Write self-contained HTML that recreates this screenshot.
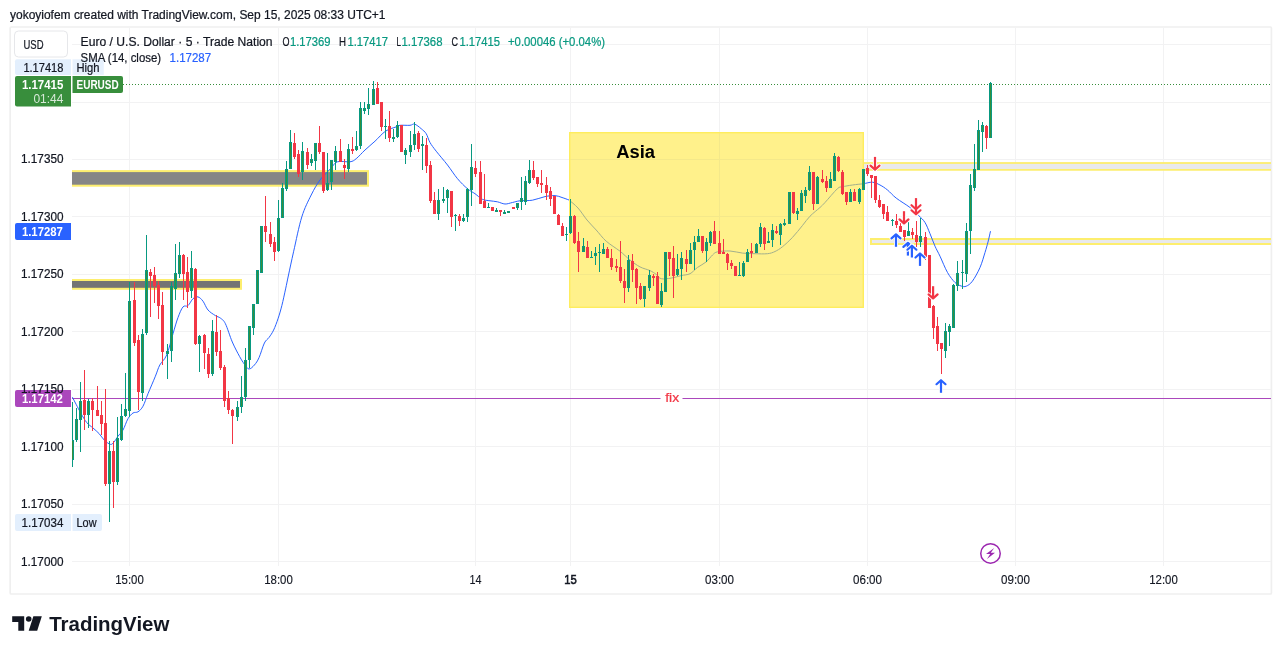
<!DOCTYPE html>
<html><head><meta charset="utf-8"><title>chart</title>
<style>
html,body{margin:0;padding:0;background:#fff;}
body{width:1281px;height:654px;overflow:hidden;font-family:"Liberation Sans",sans-serif;}
svg{display:block;font-family:"Liberation Sans",sans-serif;will-change:transform;}
</style></head><body>
<svg width="1281" height="654" viewBox="0 0 1281 654">
<rect width="1281" height="654" fill="#fff"/>
<text x="10" y="18.7" font-size="12" fill="#131722" text-anchor="start" font-weight="normal" stroke="#131722" stroke-width="0.22" textLength="375.5" lengthAdjust="spacingAndGlyphs" >yokoyiofem created with TradingView.com, Sep 15, 2025 08:33 UTC+1</text>
<rect x="10.2" y="27" width="1261.2" height="567" rx="1" fill="#fff" stroke="#efefef" stroke-width="1.7"/>
<line x1="72" x2="1271" y1="561.5" y2="561.5" stroke="#f2f2f3" stroke-width="1"/>
<line x1="72" x2="1271" y1="504.5" y2="504.5" stroke="#f2f2f3" stroke-width="1"/>
<line x1="72" x2="1271" y1="446.5" y2="446.5" stroke="#f2f2f3" stroke-width="1"/>
<line x1="72" x2="1271" y1="389.5" y2="389.5" stroke="#f2f2f3" stroke-width="1"/>
<line x1="72" x2="1271" y1="331.5" y2="331.5" stroke="#f2f2f3" stroke-width="1"/>
<line x1="72" x2="1271" y1="274.5" y2="274.5" stroke="#f2f2f3" stroke-width="1"/>
<line x1="72" x2="1271" y1="216.5" y2="216.5" stroke="#f2f2f3" stroke-width="1"/>
<line x1="72" x2="1271" y1="159.5" y2="159.5" stroke="#f2f2f3" stroke-width="1"/>
<line x1="72" x2="1271" y1="102.5" y2="102.5" stroke="#f2f2f3" stroke-width="1"/>
<line x1="72" x2="1271" y1="44.5" y2="44.5" stroke="#f2f2f3" stroke-width="1"/>
<line x1="129.5" x2="129.5" y1="28" y2="566" stroke="#f2f2f3" stroke-width="1"/>
<line x1="278.5" x2="278.5" y1="28" y2="566" stroke="#f2f2f3" stroke-width="1"/>
<line x1="475.5" x2="475.5" y1="28" y2="566" stroke="#f2f2f3" stroke-width="1"/>
<line x1="570.5" x2="570.5" y1="28" y2="566" stroke="#f2f2f3" stroke-width="1"/>
<line x1="719.5" x2="719.5" y1="28" y2="566" stroke="#f2f2f3" stroke-width="1"/>
<line x1="867.5" x2="867.5" y1="28" y2="566" stroke="#f2f2f3" stroke-width="1"/>
<line x1="1015.5" x2="1015.5" y1="28" y2="566" stroke="#f2f2f3" stroke-width="1"/>
<line x1="1163.5" x2="1163.5" y1="28" y2="566" stroke="#f2f2f3" stroke-width="1"/>
<defs><clipPath id="cp"><rect x="72" y="28" width="1199" height="565"/></clipPath></defs>
<g clip-path="url(#cp)">
<rect x="60" y="171.1" width="308" height="14.6" fill="#868686" stroke="#fdee6e" stroke-width="2"/>
<rect x="60" y="280" width="181" height="8.8" fill="#747474" stroke="#fdee6e" stroke-width="2"/>
<rect x="863" y="163" width="412" height="6.85" fill="#e9e9ec" stroke="#fdee6e" stroke-width="1.8"/>
<rect x="871" y="239" width="404" height="5" fill="#e9e9ec" stroke="#fdee6e" stroke-width="2"/>
<line x1="72" x2="660.5" y1="398.5" y2="398.5" stroke="#ab47bc" stroke-width="1"/>
<line x1="682.5" x2="1271" y1="398.5" y2="398.5" stroke="#ab47bc" stroke-width="1"/>
<text x="665.2" y="402" font-size="12" fill="#f23645" stroke="#f23645" stroke-width="0.2" textLength="14" lengthAdjust="spacingAndGlyphs">fix</text>
<path d="M72.4,397.2C73.75,399.75 78.12,408.28 80.5,412.5C82.88,416.72 84.62,419.92 86.7,422.5C88.78,425.08 90.92,426.13 93,428C95.08,429.87 97.33,431.7 99.2,433.7C101.07,435.7 102.32,438.22 104.2,440C106.08,441.78 108.87,444.07 110.5,444.4C112.13,444.73 112.75,443.37 114,442C115.25,440.63 116.5,438.2 118,436.2C119.5,434.2 121.33,432.92 123,430C124.67,427.08 126.33,421.53 128,418.7C129.67,415.87 131.33,414.15 133,413C134.67,411.85 136.33,412.93 138,411.8C139.67,410.67 141.33,409.22 143,406.2C144.67,403.18 145.93,398.7 148,393.7C150.07,388.7 153.43,380.98 155.4,376.2C157.37,371.42 157.92,368.53 159.8,365C161.68,361.47 164.5,360.22 166.7,355C168.9,349.78 171.12,339.95 173,333.7C174.88,327.45 176.33,321.97 178,317.5C179.67,313.03 181.33,308.88 183,306.9C184.67,304.92 186.33,306.97 188,305.6C189.67,304.23 191.33,300.15 193,298.7C194.67,297.25 196.33,296.48 198,296.9C199.67,297.32 201.33,299.02 203,301.2C204.67,303.38 205.93,307.6 208,310C210.07,312.4 213.33,314.25 215.4,315.6C217.47,316.95 218.73,316.75 220.4,318.1C222.07,319.45 223.42,319.72 225.4,323.7C227.38,327.68 229.92,336.5 232.3,342C234.68,347.5 237.7,353.03 239.7,356.7C241.7,360.37 242.77,361.95 244.3,364C245.83,366.05 247.22,368.83 248.9,369C250.58,369.17 252.72,366.88 254.4,365C256.08,363.12 257.33,361.37 259,357.7C260.67,354.03 262.73,346.37 264.4,343C266.07,339.63 267.47,339.65 269,337.5C270.53,335.35 272.07,333.32 273.6,330.1C275.13,326.88 276.82,322.32 278.2,318.2C279.58,314.08 280.67,310.28 281.9,305.4C283.13,300.52 284.53,293.8 285.6,288.9C286.67,284 286.95,282.28 288.3,276C289.65,269.72 291.45,261.05 293.7,251.2C295.95,241.35 298.88,226.27 301.8,216.9C304.72,207.53 308.17,201.15 311.2,195C314.23,188.85 316.87,184.28 320,180C323.13,175.72 327.1,172.33 330,169.3C332.9,166.27 334.07,163.05 337.4,161.8C340.73,160.55 346.87,162.32 350,161.8C353.13,161.28 353.7,160.67 356.2,158.7C358.7,156.73 361.87,152.92 365,150C368.13,147.08 371.58,144.33 375,141.2C378.42,138.07 381.98,133.58 385.5,131.2C389.02,128.82 393.68,127.88 396.1,126.9C398.52,125.92 397.68,125.57 400,125.3C402.32,125.03 407.57,125.5 410,125.3C412.43,125.1 412.73,123.53 414.6,124.1C416.47,124.67 419.27,127.1 421.2,128.7C423.13,130.3 424.73,131.4 426.2,133.7C427.67,136 428.33,139.58 430,142.5C431.67,145.42 433.28,147.45 436.2,151.2C439.12,154.95 443.95,160.42 447.5,165C451.05,169.58 454.18,174.75 457.5,178.7C460.82,182.65 464.48,186.2 467.4,188.7C470.32,191.2 472.5,191.93 475,193.7C477.5,195.47 479.9,198.12 482.4,199.3C484.9,200.48 487.5,200.38 490,200.8C492.5,201.22 494.9,201.27 497.4,201.8C499.9,202.33 502.5,203.88 505,204C507.5,204.12 509.9,203.03 512.4,202.5C514.9,201.97 516.67,201.18 520,200.8C523.33,200.42 528.23,200.9 532.4,200.2C536.57,199.5 541.23,197.37 545,196.6C548.77,195.83 552.17,195.45 555,195.6C557.83,195.75 559.67,196.77 562,197.5C564.33,198.23 567.83,199.58 569,200" fill="none" stroke="#2962ff" stroke-width="1" stroke-linejoin="round"/>
<rect x="569" y="132" width="295" height="176" fill="#fff18b"/>
<line x1="569" x2="864" y1="159.5" y2="159.5" stroke="#f4e88a" stroke-width="1"/>
<line x1="569" x2="864" y1="216.5" y2="216.5" stroke="#f4e88a" stroke-width="1"/>
<line x1="569" x2="864" y1="274.5" y2="274.5" stroke="#f4e88a" stroke-width="1"/>
<line x1="719.5" x2="719.5" y1="132" y2="308" stroke="#f4e88a" stroke-width="1"/>
<path d="M569,200C570.5,201.33 575,204.67 578,208C581,211.33 583.97,216.33 587,220C590.03,223.67 593,226.47 596.2,230C599.4,233.53 602.23,237.67 606.2,241.2C610.17,244.73 616.03,248.07 620,251.2C623.97,254.33 626.67,257.38 630,260C633.33,262.62 636.67,265.13 640,266.9C643.33,268.67 647.3,269.35 650,270.6C652.7,271.85 654.33,273.05 656.2,274.4C658.07,275.75 658.7,278.08 661.2,278.7C663.7,279.32 667.87,278.62 671.2,278.1C674.53,277.58 678.07,276.33 681.2,275.6C684.33,274.87 687.3,275.05 690,273.7C692.7,272.35 694.7,269.47 697.4,267.5C700.1,265.53 703.68,263.98 706.2,261.9C708.72,259.82 710.62,256.68 712.5,255C714.38,253.32 714.58,252.47 717.5,251.8C720.42,251.13 725.83,250.78 730,251C734.17,251.22 738.33,252.65 742.5,253.1C746.67,253.55 750.83,253.6 755,253.7C759.17,253.8 764.17,254.07 767.5,253.7C770.83,253.33 772.52,252.65 775,251.5C777.48,250.35 779.5,249.13 782.4,246.8C785.3,244.47 789.07,241.03 792.4,237.5C795.73,233.97 799.47,229.15 802.4,225.6C805.33,222.05 807.07,219.22 810,216.2C812.93,213.18 817.5,209.78 820,207.5C822.5,205.22 822.1,205.63 825,202.5C827.9,199.37 834.5,191.32 837.4,188.7C840.3,186.08 839.9,187.42 842.4,186.8C844.9,186.18 848.8,185.52 852.4,185C856,184.48 862.07,183.92 864,183.7" fill="none" stroke="#a3b08c" stroke-width="1" stroke-linejoin="round"/>
<rect x="569.7" y="132.7" width="293.6" height="174.6" fill="none" stroke="#feed5e" stroke-width="1.4"/>
<text x="616.2" y="157.5" font-size="18" font-weight="bold" fill="#000" textLength="38.8" lengthAdjust="spacingAndGlyphs">Asia</text>
<path d="M864,183.7C865.4,183.45 869.73,181.98 872.4,182.2C875.07,182.42 877.48,183.7 880,185C882.52,186.3 884.8,187.82 887.5,190C890.2,192.18 892.45,195.18 896.2,198.1C899.95,201.02 906.25,204.58 910,207.5C913.75,210.42 916.2,213.1 918.7,215.6C921.2,218.1 923.12,219.48 925,222.5C926.88,225.52 928.33,229.75 930,233.7C931.67,237.65 933.33,242.45 935,246.2C936.67,249.95 937.92,251.82 940,256.2C942.08,260.58 945,268.12 947.5,272.5C950,276.88 952.72,280.25 955,282.5C957.28,284.75 959.33,285.38 961.2,286C963.07,286.62 964.33,287 966.2,286.2C968.07,285.4 970.1,284.32 972.4,281.2C974.7,278.08 977.9,272.28 980,267.5C982.1,262.72 983.67,256.75 985,252.5C986.33,248.25 987.08,245.55 988,242C988.92,238.45 990.08,233 990.5,231.2" fill="none" stroke="#2962ff" stroke-width="1" stroke-linejoin="round"/>
<line x1="123" x2="1271" y1="84.5" y2="84.5" stroke="#388e3c" stroke-width="1" stroke-dasharray="1 2"/>
<path d="M72.5,402V467M76.5,408V442M80.5,382V452M88.5,399V428M109.5,441V522M117.5,417V485M121.5,404V441M125.5,373V417M129.5,282V417M142.5,329V401M146.5,235V335M167.5,344V379M171.5,282V362M175.5,244V300M179.5,242V278M191.5,251V298M199.5,335V372M212.5,320V376M237.5,401V421M241.5,376V413M245.5,348V401M249.5,326V368M253.5,304V335M257.5,270V304M261.5,226V273M278.5,200V252M282.5,183V218M286.5,161V191M290.5,130V169M302.5,142V180M311.5,154V166M315.5,143V170M327.5,153V191M331.5,160V190M335.5,146V170M348.5,144V172M356.5,131V151M360.5,102V149M364.5,102V114M368.5,88V115M373.5,81V105M385.5,119V139M393.5,129V142M397.5,121V138M405.5,148V164M410.5,131V157M414.5,122V150M422.5,136V170M438.5,189V220M443.5,187V203M447.5,189V213M455.5,214V231M463.5,214V222M467.5,188V222M471.5,144V206M488.5,203V208M496.5,208V212M504.5,210V214M508.5,211V213M517.5,203V210M521.5,177V210M525.5,176V205M529.5,160V184M566.5,227V241M570.5,199V234M583.5,238V252M591.5,251V258M595.5,247V265M599.5,244V272M603.5,243V254M628.5,255V292M644.5,286V307M649.5,270V291M661.5,283V307M665.5,252V292M677.5,254V276M681.5,252V280M690.5,243V264M694.5,236V270M698.5,229V242M706.5,238V262M710.5,231V246M739.5,262V276M743.5,261V277M747.5,249V262M756.5,243V253M760.5,223V247M768.5,232V243M772.5,224V247M780.5,223V245M784.5,219V226M789.5,192V224M797.5,208V220M801.5,190V211M805.5,187V203M809.5,166V191M817.5,176V204M830.5,172V188M834.5,153V181M850.5,189V202M859.5,188V204M863.5,169V190M892.5,219V226M908.5,222V236M920.5,218V247M945.5,323V358M949.5,324V346M953.5,284V328M957.5,261V291M962.5,260V289M966.5,223V282M970.5,174V254M974.5,144V191M978.5,120V170M982.5,122V152M990.5,82V138" stroke="#089981" stroke-width="1" fill="none"/>
<path d="M84.5,370V430M92.5,398V431M97.5,386V416M101.5,401V435M105.5,389V486M113.5,441V508M134.5,282V346M138.5,335V410M150.5,269V317M154.5,267V303M158.5,281V319M162.5,292V365M183.5,254V300M187.5,257V308M195.5,268V345M204.5,334V369M208.5,348V378M216.5,315V356M220.5,330V370M224.5,365V407M228.5,391V414M232.5,409V444M265.5,196V242M270.5,222V247M274.5,237V261M294.5,133V159M298.5,150V177M307.5,148V169M319.5,126V154M323.5,152V193M340.5,139V162M344.5,159V179M352.5,137V154M377.5,82V104M381.5,102V131M389.5,111V142M401.5,125V152M418.5,131V152M426.5,138V173M430.5,161V203M434.5,192V214M451.5,191V227M459.5,214V226M475.5,161V177M480.5,161V204M484.5,174V208M492.5,207V211M500.5,210V216M513.5,207V209M533.5,161V180M537.5,177V187M541.5,170V193M546.5,177V200M550.5,187V206M554.5,196V214M558.5,214V225M562.5,223V236M574.5,215V244M578.5,232V272M587.5,241V258M607.5,247V258M611.5,249V270M616.5,259V272M620.5,241V283M624.5,269V303M632.5,254V282M636.5,268V304M640.5,283V300M653.5,274V286M657.5,272V304M669.5,252V276M673.5,246V298M686.5,250V272M702.5,236V253M714.5,221V244M719.5,231V254M723.5,239V254M727.5,253V270M731.5,260V269M735.5,266V276M751.5,243V258M764.5,227V250M776.5,226V234M793.5,192V214M813.5,172V210M822.5,170V183M826.5,176V192M838.5,156V172M842.5,170V195M846.5,192V205M854.5,189V201M867.5,165V176M871.5,175V198M875.5,176V203M879.5,195V208M883.5,204V219M887.5,206V221M896.5,214V228M900.5,223V232M904.5,230V241M912.5,228V239M916.5,221V247M925.5,232V260M929.5,255V308M933.5,305V339M937.5,317V351M941.5,343V374M986.5,125V149" stroke="#f23645" stroke-width="1" fill="none"/>
<path d="M71,440h3V460h-3zM75,419h3V440h-3zM79,401h3V420h-3zM87,401h3V415h-3zM108,451h3V484h-3zM116,438h3V482h-3zM120,416h3V440h-3zM124,409h3V416h-3zM128,301h3V411h-3zM141,334h3V393h-3zM145,270h3V333h-3zM166,351h3V354h-3zM170,286h3V351h-3zM174,273h3V289h-3zM178,255h3V274h-3zM190,268h3V291h-3zM198,336h3V344h-3zM211,331h3V374h-3zM236,407h3V417h-3zM240,397h3V407h-3zM244,360h3V397h-3zM248,326h3V360h-3zM252,304h3V328h-3zM256,270h3V304h-3zM260,226h3V273h-3zM277,218h3V251h-3zM281,188h3V218h-3zM285,169h3V189h-3zM289,142h3V169h-3zM301,151h3V172h-3zM310,159h3V163h-3zM314,143h3V161h-3zM326,183h3V190h-3zM330,160h3V182h-3zM334,151h3V162h-3zM347,149h3V169h-3zM355,146h3V150h-3zM359,108h3V146h-3zM363,108h3V111h-3zM367,104h3V109h-3zM372,89h3V105h-3zM384,126h3V127h-3zM392,137h3V139h-3zM396,125h3V137h-3zM404,150h3V155h-3zM409,145h3V152h-3zM413,134h3V145h-3zM421,144h3V146h-3zM437,200h3V214h-3zM442,199h3V201h-3zM446,190h3V198h-3zM454,215h3V216h-3zM462,218h3V221h-3zM466,189h3V217h-3zM470,167h3V190h-3zM487,207h3V208h-3zM495,210h3V212h-3zM503,212h3V214h-3zM507,211h3V213h-3zM516,203h3V208h-3zM520,198h3V202h-3zM524,181h3V202h-3zM528,170h3V183h-3zM565,234h3V235h-3zM569,216h3V233h-3zM582,246h3V252h-3zM590,257h3V258h-3zM594,253h3V256h-3zM598,252h3V253h-3zM602,249h3V254h-3zM627,260h3V288h-3zM643,286h3V299h-3zM648,275h3V288h-3zM660,291h3V305h-3zM664,252h3V292h-3zM676,269h3V275h-3zM680,258h3V269h-3zM689,250h3V264h-3zM693,242h3V250h-3zM697,236h3V242h-3zM705,242h3V251h-3zM709,232h3V243h-3zM738,275h3V276h-3zM742,263h3V276h-3zM746,252h3V262h-3zM755,244h3V253h-3zM759,227h3V244h-3zM767,241h3V243h-3zM771,230h3V240h-3zM779,224h3V235h-3zM783,223h3V225h-3zM788,192h3V224h-3zM796,211h3V214h-3zM800,193h3V211h-3zM804,190h3V196h-3zM808,172h3V190h-3zM816,177h3V204h-3zM829,179h3V188h-3zM833,156h3V181h-3zM849,192h3V202h-3zM858,189h3V202h-3zM862,169h3V190h-3zM891,220h3V221h-3zM907,231h3V236h-3zM919,236h3V242h-3zM944,331h3V351h-3zM948,326h3V332h-3zM952,285h3V328h-3zM956,273h3V286h-3zM961,272h3V273h-3zM965,231h3V274h-3zM969,185h3V231h-3zM973,169h3V188h-3zM977,130h3V170h-3zM981,125h3V132h-3zM989,83h3V138h-3z" fill="#089981"/>
<path d="M72.5,441V459M76.5,420V439M80.5,402V419M88.5,402V414M109.5,452V483M117.5,439V481M121.5,417V439M125.5,410V415M129.5,302V410M142.5,335V392M146.5,271V332M167.5,352V353M171.5,287V350M175.5,274V288M179.5,256V273M191.5,269V290M199.5,337V343M212.5,332V373M237.5,408V416M241.5,398V406M245.5,361V396M249.5,327V359M253.5,305V327M257.5,271V303M261.5,227V272M278.5,219V250M282.5,189V217M286.5,170V188M290.5,143V168M302.5,152V171M311.5,160V162M315.5,144V160M327.5,184V189M331.5,161V181M335.5,152V161M348.5,150V168M356.5,147V149M360.5,109V145M364.5,109V110M368.5,105V108M373.5,90V104M393.5,137.5V138.5M397.5,126V136M405.5,151V154M410.5,146V151M414.5,135V144M422.5,144.5V145.5M438.5,201V213M443.5,199.5V200.5M447.5,191V197M463.5,219V220M467.5,190V216M471.5,168V189M496.5,210.5V211.5M504.5,212.5V213.5M508.5,211.5V212.5M517.5,204V207M521.5,199V201M525.5,182V201M529.5,171V182M570.5,217V232M583.5,247V251M595.5,254V255M603.5,250V253M628.5,261V287M644.5,287V298M649.5,276V287M661.5,292V304M665.5,253V291M677.5,270V274M681.5,259V268M690.5,251V263M694.5,243V249M698.5,237V241M706.5,243V250M710.5,233V242M743.5,264V275M747.5,253V261M756.5,245V252M760.5,228V243M768.5,241.5V242.5M772.5,231V239M780.5,225V234M784.5,223.5V224.5M789.5,193V223M797.5,212V213M801.5,194V210M805.5,191V195M809.5,173V189M817.5,178V203M830.5,180V187M834.5,157V180M850.5,193V201M859.5,190V201M863.5,170V189M908.5,232V235M920.5,237V241M945.5,332V350M949.5,327V331M953.5,286V327M957.5,274V285M966.5,232V273M970.5,186V230M974.5,170V187M978.5,131V169M982.5,126V131M990.5,84V137" stroke="#388e3c" stroke-width="1" fill="none"/>
<path d="M83,400h3V415h-3zM91,401h3V410h-3zM96,410h3V416h-3zM100,415h3V424h-3zM104,423h3V484h-3zM112,451h3V482h-3zM133,300h3V343h-3zM137,340h3V392h-3zM149,272h3V276h-3zM153,275h3V286h-3zM157,285h3V306h-3zM161,305h3V352h-3zM182,255h3V274h-3zM186,272h3V292h-3zM194,269h3V344h-3zM203,335h3V353h-3zM207,354h3V374h-3zM215,332h3V352h-3zM219,351h3V368h-3zM223,367h3V401h-3zM227,398h3V410h-3zM231,410h3V416h-3zM264,226h3V232h-3zM269,234h3V244h-3zM273,242h3V252h-3zM293,143h3V157h-3zM297,154h3V174h-3zM306,152h3V165h-3zM318,143h3V152h-3zM322,152h3V191h-3zM339,151h3V162h-3zM343,165h3V168h-3zM351,149h3V151h-3zM376,88h3V104h-3zM380,102h3V127h-3zM388,126h3V138h-3zM400,125h3V152h-3zM417,133h3V149h-3zM425,145h3V166h-3zM429,165h3V201h-3zM433,200h3V214h-3zM450,191h3V217h-3zM458,216h3V221h-3zM474,168h3V174h-3zM479,172h3V204h-3zM483,201h3V208h-3zM491,207h3V211h-3zM499,210h3V212h-3zM512,207h3V209h-3zM532,170h3V178h-3zM536,177h3V184h-3zM540,183h3V185h-3zM545,185h3V193h-3zM549,191h3V199h-3zM553,196h3V214h-3zM557,215h3V225h-3zM561,226h3V236h-3zM573,216h3V243h-3zM577,241h3V252h-3zM586,247h3V258h-3zM606,249h3V258h-3zM610,258h3V267h-3zM615,266h3V268h-3zM619,267h3V281h-3zM623,281h3V288h-3zM631,261h3V270h-3zM635,269h3V288h-3zM639,286h3V299h-3zM652,276h3V278h-3zM656,276h3V304h-3zM668,252h3V259h-3zM672,258h3V276h-3zM685,259h3V264h-3zM701,236h3V251h-3zM713,231h3V244h-3zM718,243h3V254h-3zM722,252h3V254h-3zM726,254h3V263h-3zM730,263h3V266h-3zM734,266h3V276h-3zM750,251h3V253h-3zM763,228h3V244h-3zM775,231h3V233h-3zM792,192h3V213h-3zM812,172h3V204h-3zM821,179h3V182h-3zM825,181h3V188h-3zM837,157h3V171h-3zM841,172h3V194h-3zM845,192h3V202h-3zM853,192h3V201h-3zM866,168h3V174h-3zM870,175h3V178h-3zM874,176h3V200h-3zM878,200h3V207h-3zM882,204h3V214h-3zM886,212h3V221h-3zM895,221h3V225h-3zM899,226h3V232h-3zM903,230h3V237h-3zM911,232h3V235h-3zM915,235h3V242h-3zM924,237h3V257h-3zM928,255h3V308h-3zM932,306h3V328h-3zM936,326h3V344h-3zM940,343h3V349h-3zM985,126h3V138h-3z" fill="#f23645"/>
</g>
<path d="M896,246.8V234.4" fill="none" stroke="#fff" stroke-width="4" stroke-linecap="square"/><path d="M891.5,238.4L896,234.4L900.5,238.4" fill="none" stroke="#fff" stroke-width="4" stroke-linecap="round" stroke-linejoin="round"/><path d="M896,246.8V234.4" fill="none" stroke="#2962ff" stroke-width="2.2"/><path d="M891.5,238.4L896,234.4L900.5,238.4" fill="none" stroke="#2962ff" stroke-width="2.2" stroke-linecap="round" stroke-linejoin="round"/>
<path d="M907.9,255.6V242.9" fill="none" stroke="#fff" stroke-width="4" stroke-linecap="square"/><path d="M903.4,246.9L907.9,242.9L912.4,246.9" fill="none" stroke="#fff" stroke-width="4" stroke-linecap="round" stroke-linejoin="round"/><path d="M907.9,255.6V242.9" fill="none" stroke="#2962ff" stroke-width="2.2"/><path d="M903.4,246.9L907.9,242.9L912.4,246.9" fill="none" stroke="#2962ff" stroke-width="2.2" stroke-linecap="round" stroke-linejoin="round"/>
<path d="M911.9,257.5V245.7" fill="none" stroke="#fff" stroke-width="4" stroke-linecap="square"/><path d="M907.4,249.7L911.9,245.7L916.4,249.7" fill="none" stroke="#fff" stroke-width="4" stroke-linecap="round" stroke-linejoin="round"/><path d="M911.9,257.5V245.7" fill="none" stroke="#2962ff" stroke-width="2.2"/><path d="M907.4,249.7L911.9,245.7L916.4,249.7" fill="none" stroke="#2962ff" stroke-width="2.2" stroke-linecap="round" stroke-linejoin="round"/>
<path d="M920,265.9V253.5" fill="none" stroke="#fff" stroke-width="4" stroke-linecap="square"/><path d="M915.5,257.5L920,253.5L924.5,257.5" fill="none" stroke="#fff" stroke-width="4" stroke-linecap="round" stroke-linejoin="round"/><path d="M920,265.9V253.5" fill="none" stroke="#2962ff" stroke-width="2.2"/><path d="M915.5,257.5L920,253.5L924.5,257.5" fill="none" stroke="#2962ff" stroke-width="2.2" stroke-linecap="round" stroke-linejoin="round"/>
<path d="M941,392.8V380.2" fill="none" stroke="#fff" stroke-width="4" stroke-linecap="square"/><path d="M936.5,384.2L941,380.2L945.5,384.2" fill="none" stroke="#fff" stroke-width="4" stroke-linecap="round" stroke-linejoin="round"/><path d="M941,392.8V380.2" fill="none" stroke="#2962ff" stroke-width="2.2"/><path d="M936.5,384.2L941,380.2L945.5,384.2" fill="none" stroke="#2962ff" stroke-width="2.2" stroke-linecap="round" stroke-linejoin="round"/>
<path d="M875,156.9V169.6" fill="none" stroke="#fff" stroke-width="4" stroke-linecap="square"/><path d="M870.5,165.6L875,169.6L879.5,165.6" fill="none" stroke="#fff" stroke-width="4" stroke-linecap="round" stroke-linejoin="round"/><path d="M875,156.9V169.6" fill="none" stroke="#f23645" stroke-width="2.2"/><path d="M870.5,165.6L875,169.6L879.5,165.6" fill="none" stroke="#f23645" stroke-width="2.2" stroke-linecap="round" stroke-linejoin="round"/>
<path d="M904,211.2V223.4" fill="none" stroke="#fff" stroke-width="4" stroke-linecap="square"/><path d="M899.5,219.4L904,223.4L908.5,219.4" fill="none" stroke="#fff" stroke-width="4" stroke-linecap="round" stroke-linejoin="round"/><path d="M904,211.2V223.4" fill="none" stroke="#f23645" stroke-width="2.2"/><path d="M899.5,219.4L904,223.4L908.5,219.4" fill="none" stroke="#f23645" stroke-width="2.2" stroke-linecap="round" stroke-linejoin="round"/>
<path d="M916,198.1V214.3" fill="none" stroke="#fff" stroke-width="4" stroke-linecap="square"/><path d="M911.5,210.3L916,214.3L920.5,210.3M911.5,205.2L916,209.2L920.5,205.2" fill="none" stroke="#fff" stroke-width="4" stroke-linecap="round" stroke-linejoin="round"/><path d="M916,198.1V214.3" fill="none" stroke="#f23645" stroke-width="2.2"/><path d="M911.5,210.3L916,214.3L920.5,210.3M911.5,205.2L916,209.2L920.5,205.2" fill="none" stroke="#f23645" stroke-width="2.2" stroke-linecap="round" stroke-linejoin="round"/>
<path d="M933.1,286.2V298.4" fill="none" stroke="#fff" stroke-width="4" stroke-linecap="square"/><path d="M928.6,294.4L933.1,298.4L937.6,294.4" fill="none" stroke="#fff" stroke-width="4" stroke-linecap="round" stroke-linejoin="round"/><path d="M933.1,286.2V298.4" fill="none" stroke="#f23645" stroke-width="2.2"/><path d="M928.6,294.4L933.1,298.4L937.6,294.4" fill="none" stroke="#f23645" stroke-width="2.2" stroke-linecap="round" stroke-linejoin="round"/>
<path d="M17,59.3H71V74.9H17a2,2 0 0 1 -2,-2V61.3a2,2 0 0 1 2,-2z" fill="#e3effd"/>
<text x="23.4" y="71.9" font-size="12" fill="#131722" textLength="40" lengthAdjust="spacingAndGlyphs" stroke="#131722" stroke-width="0.22">1.17418</text>
<rect x="72.5" y="59.3" width="31.3" height="15.6" fill="#e3effd" fill-opacity="0.85"/>
<text x="76.5" y="71.9" font-size="12" fill="#131722" textLength="23" lengthAdjust="spacingAndGlyphs" stroke="#131722" stroke-width="0.22">High</text>
<path d="M17,514H71V531H17a2,2 0 0 1 -2,-2V516a2,2 0 0 1 2,-2z" fill="#e3effd"/>
<text x="21.6" y="526.8" font-size="12" fill="#131722" textLength="41.8" lengthAdjust="spacingAndGlyphs" stroke="#131722" stroke-width="0.22">1.17034</text>
<path d="M72.5,514H100a2,2 0 0 1 2,2V529a2,2 0 0 1 -2,2H72.5z" fill="#e3effd"/>
<text x="76.5" y="526.8" font-size="12" fill="#131722" textLength="20" lengthAdjust="spacingAndGlyphs" stroke="#131722" stroke-width="0.22">Low</text>
<path d="M17,76H71V106.5H17a2,2 0 0 1 -2,-2V78a2,2 0 0 1 2,-2z" fill="#388e3c"/>
<text x="21.9" y="88.6" font-size="12" font-weight="bold" fill="#fff" textLength="41.5" lengthAdjust="spacingAndGlyphs">1.17415</text>
<text x="33.4" y="102.6" font-size="12" fill="#fff" fill-opacity="0.8" textLength="30" lengthAdjust="spacingAndGlyphs">01:44</text>
<path d="M72.5,76H121a2,2 0 0 1 2,2V91a2,2 0 0 1 -2,2H72.5z" fill="#388e3c"/>
<text x="76.5" y="88.6" font-size="12" font-weight="bold" fill="#fff" textLength="42.2" lengthAdjust="spacingAndGlyphs">EURUSD</text>
<path d="M17,223H71V240H17a2,2 0 0 1 -2,-2V225a2,2 0 0 1 2,-2z" fill="#2962ff"/>
<text x="21.9" y="235.8" font-size="12" font-weight="bold" fill="#fff" textLength="41" lengthAdjust="spacingAndGlyphs">1.17287</text>
<path d="M17,390H71V407H17a2,2 0 0 1 -2,-2V392a2,2 0 0 1 2,-2z" fill="#ab47bc"/>
<text x="21.9" y="402.8" font-size="12" font-weight="bold" fill="#fff" textLength="41" lengthAdjust="spacingAndGlyphs">1.17142</text>
<circle cx="990.5" cy="553.4" r="9.75" fill="#fff" stroke="#9c27b0" stroke-width="1.5"/>
<path d="M994.2,547.9L986,554H990.2L987,558.9L995,552.8H990.8z" fill="#9c27b0"/>
<path d="M12.2,616.2H24.2V630.8H18.3V622H12.2z" fill="#131722"/>
<circle cx="28.7" cy="619" r="2.8" fill="#131722"/>
<path d="M33.4,616.2H41.8L37.2,630.8H28.7z" fill="#131722"/>
<text x="49.2" y="630.8" font-size="20" font-weight="bold" fill="#131722" textLength="120.2" lengthAdjust="spacingAndGlyphs">TradingView</text>
<text x="21" y="565.8" font-size="12" fill="#131722" text-anchor="start" font-weight="normal" stroke="#131722" stroke-width="0.22" textLength="42.5" lengthAdjust="spacingAndGlyphs" >1.17000</text>
<text x="21" y="508.3" font-size="12" fill="#131722" text-anchor="start" font-weight="normal" stroke="#131722" stroke-width="0.22" textLength="42.5" lengthAdjust="spacingAndGlyphs" >1.17050</text>
<text x="21" y="450.8" font-size="12" fill="#131722" text-anchor="start" font-weight="normal" stroke="#131722" stroke-width="0.22" textLength="42.5" lengthAdjust="spacingAndGlyphs" >1.17100</text>
<text x="21" y="393.3" font-size="12" fill="#131722" text-anchor="start" font-weight="normal" stroke="#131722" stroke-width="0.22" textLength="42.5" lengthAdjust="spacingAndGlyphs" >1.17150</text>
<text x="21" y="335.8" font-size="12" fill="#131722" text-anchor="start" font-weight="normal" stroke="#131722" stroke-width="0.22" textLength="42.5" lengthAdjust="spacingAndGlyphs" >1.17200</text>
<text x="21" y="278.3" font-size="12" fill="#131722" text-anchor="start" font-weight="normal" stroke="#131722" stroke-width="0.22" textLength="42.5" lengthAdjust="spacingAndGlyphs" >1.17250</text>
<text x="21" y="220.8" font-size="12" fill="#131722" text-anchor="start" font-weight="normal" stroke="#131722" stroke-width="0.22" textLength="42.5" lengthAdjust="spacingAndGlyphs" >1.17300</text>
<text x="21" y="163.3" font-size="12" fill="#131722" text-anchor="start" font-weight="normal" stroke="#131722" stroke-width="0.22" textLength="42.5" lengthAdjust="spacingAndGlyphs" >1.17350</text>
<text x="129.5" y="583.8" font-size="12" fill="#131722" text-anchor="middle" font-weight="normal" textLength="28.5" lengthAdjust="spacingAndGlyphs" stroke="#131722" stroke-width="0.15">15:00</text>
<text x="278.5" y="583.8" font-size="12" fill="#131722" text-anchor="middle" font-weight="normal" textLength="28.5" lengthAdjust="spacingAndGlyphs" stroke="#131722" stroke-width="0.15">18:00</text>
<text x="475.5" y="583.8" font-size="12" fill="#131722" text-anchor="middle" font-weight="normal" textLength="12" lengthAdjust="spacingAndGlyphs" stroke="#131722" stroke-width="0.15">14</text>
<text x="570.5" y="583.8" font-size="12" fill="#131722" text-anchor="middle" font-weight="normal" textLength="12.5" lengthAdjust="spacingAndGlyphs" stroke="#131722" stroke-width="0.55">15</text>
<text x="719.5" y="583.8" font-size="12" fill="#131722" text-anchor="middle" font-weight="normal" textLength="29" lengthAdjust="spacingAndGlyphs" stroke="#131722" stroke-width="0.15">03:00</text>
<text x="867.5" y="583.8" font-size="12" fill="#131722" text-anchor="middle" font-weight="normal" textLength="29" lengthAdjust="spacingAndGlyphs" stroke="#131722" stroke-width="0.15">06:00</text>
<text x="1015.5" y="583.8" font-size="12" fill="#131722" text-anchor="middle" font-weight="normal" textLength="29" lengthAdjust="spacingAndGlyphs" stroke="#131722" stroke-width="0.15">09:00</text>
<text x="1163.5" y="583.8" font-size="12" fill="#131722" text-anchor="middle" font-weight="normal" textLength="28.5" lengthAdjust="spacingAndGlyphs" stroke="#131722" stroke-width="0.15">12:00</text>
<rect x="14.5" y="31" width="53" height="26" rx="4" fill="#fff" stroke="#e6e7ea" stroke-width="1"/>
<text x="23.5" y="48.6" font-size="12" fill="#131722" text-anchor="start" font-weight="normal" stroke="#131722" stroke-width="0.22" textLength="20" lengthAdjust="spacingAndGlyphs" >USD</text>
<text x="80.6" y="46" font-size="12" fill="#131722" text-anchor="start" font-weight="normal" stroke="#131722" stroke-width="0.22" textLength="192" lengthAdjust="spacingAndGlyphs" >Euro / U.S. Dollar · 5 · Trade Nation</text>
<text x="282.5" y="46" font-size="12" fill="#131722" text-anchor="start" font-weight="normal" stroke="#131722" stroke-width="0.22" textLength="7" lengthAdjust="spacingAndGlyphs" >O</text>
<text x="290" y="46" font-size="12" fill="#089981" text-anchor="start" font-weight="normal" stroke="#089981" stroke-width="0.22" textLength="40.5" lengthAdjust="spacingAndGlyphs" >1.17369</text>
<text x="339" y="46" font-size="12" fill="#131722" text-anchor="start" font-weight="normal" stroke="#131722" stroke-width="0.22" textLength="7" lengthAdjust="spacingAndGlyphs" >H</text>
<text x="347.5" y="46" font-size="12" fill="#089981" text-anchor="start" font-weight="normal" stroke="#089981" stroke-width="0.22" textLength="40.5" lengthAdjust="spacingAndGlyphs" >1.17417</text>
<text x="396.5" y="46" font-size="12" fill="#131722" text-anchor="start" font-weight="normal" stroke="#131722" stroke-width="0.22" textLength="4.5" lengthAdjust="spacingAndGlyphs" >L</text>
<text x="401.5" y="46" font-size="12" fill="#089981" text-anchor="start" font-weight="normal" stroke="#089981" stroke-width="0.22" textLength="41" lengthAdjust="spacingAndGlyphs" >1.17368</text>
<text x="451.5" y="46" font-size="12" fill="#131722" text-anchor="start" font-weight="normal" stroke="#131722" stroke-width="0.22" textLength="6.5" lengthAdjust="spacingAndGlyphs" >C</text>
<text x="459.5" y="46" font-size="12" fill="#089981" text-anchor="start" font-weight="normal" stroke="#089981" stroke-width="0.22" textLength="40.5" lengthAdjust="spacingAndGlyphs" >1.17415</text>
<text x="508" y="46" font-size="12" fill="#089981" text-anchor="start" font-weight="normal" stroke="#089981" stroke-width="0.22" textLength="97" lengthAdjust="spacingAndGlyphs" >+0.00046 (+0.04%)</text>
<text x="80.6" y="62.2" font-size="12" fill="#131722" text-anchor="start" font-weight="normal" stroke="#131722" stroke-width="0.22" textLength="80.5" lengthAdjust="spacingAndGlyphs" >SMA (14, close)</text>
<text x="169.6" y="62.2" font-size="12" fill="#2962ff" text-anchor="start" font-weight="normal" stroke="#2962ff" stroke-width="0.22" textLength="41.5" lengthAdjust="spacingAndGlyphs" >1.17287</text>
</svg>
</body></html>
